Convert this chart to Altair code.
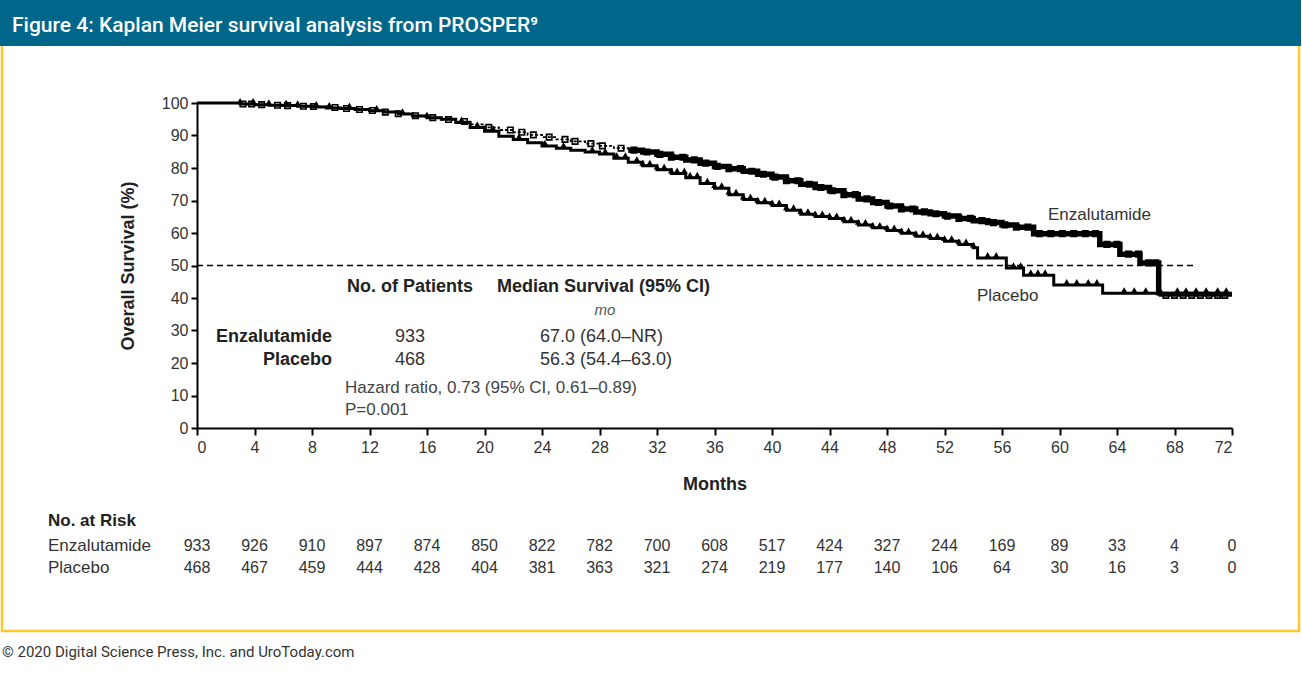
import altair as alt
import pandas as pd
import numpy as np

# ---------------- data ----------------
months_ticks = [0, 4, 8, 12, 16, 20, 24, 28, 32, 36, 40, 44, 48, 52, 56, 60, 64, 68, 72]
surv_ticks = [0, 10, 20, 30, 40, 50, 60, 70, 80, 90, 100]
risk_enz = [933, 926, 910, 897, 874, 850, 822, 782, 700, 608, 517, 424, 327, 244, 169, 89, 33, 4, 0]
risk_pla = [468, 467, 459, 444, 428, 404, 381, 363, 321, 274, 219, 177, 140, 106, 64, 30, 16, 3, 0]

enz_t = [0, 2, 3, 4, 5, 6, 7, 8, 9, 10, 11, 12, 13, 14, 15, 16, 17, 18, 19, 20, 21, 22, 23, 24,
         25, 26, 27, 28, 29, 30, 31, 32, 33, 34, 35, 36, 37, 38, 39, 40, 41, 42, 43, 44, 45, 46,
         47, 48, 49, 50, 51, 52, 53, 54, 55, 56, 57, 58.2, 62.8, 64.2, 65.6, 66.9, 72]
enz_s = [100, 100, 99.7, 99.5, 99.3, 99.2, 99.0, 98.9, 98.6, 98.3, 98.0, 97.7, 97.2, 96.7, 96.1,
         95.5, 94.9, 94.3, 93.4, 92.5, 91.7, 91.0, 90.2, 89.5, 88.8, 88.2, 87.5, 86.8, 86.1, 85.5,
         84.9, 84.2, 83.3, 82.5, 81.5, 80.5, 79.8, 79.0, 78.1, 77.2, 76.1, 75.0, 74.0, 73.0, 71.8,
         70.5, 69.4, 68.3, 67.4, 66.5, 65.9, 65.2, 64.5, 63.8, 63.2, 62.5, 61.8, 59.8, 56.5, 53.5,
         50.8, 40.8, 40.8]

pla_t = [0, 2, 3, 4, 5, 6, 7, 8, 9, 10, 11, 12, 13, 14, 15, 16, 17, 18, 19, 20, 21, 22, 23, 24,
         25, 26, 27, 28, 29, 30, 31, 32, 33, 34, 35, 36, 37, 38, 39, 40, 41, 42, 43, 44, 45, 46,
         47, 48, 49, 50, 51, 52, 53, 54, 54.3, 56.3, 57.5, 59.6, 63, 72]
pla_s = [100, 100, 99.7, 99.5, 99.3, 99.2, 99.0, 98.8, 98.5, 98.3, 98.0, 97.6, 97.2, 96.6, 96.0,
         95.5, 95.0, 94.0, 92.5, 91.3, 89.8, 88.8, 87.8, 86.8, 86.1, 85.5, 84.9, 84.3, 83.0, 81.8,
         80.7, 79.5, 78.3, 77.0, 75.2, 73.8, 71.8, 70.3, 69.3, 68.5, 67.0, 65.8, 65.1, 64.5, 63.5,
         62.5, 61.6, 60.8, 59.9, 59.0, 58.3, 57.5, 56.5, 55.5, 52.3, 49.2, 47.0, 44.0, 41.5, 41.5]

enz_cens = [3.2, 3.8, 4.5, 5.6, 6.3, 7.4, 8.1, 9.6, 10.4, 11.3, 12.2, 13.1, 14.0, 15.2, 16.4, 17.5,
            18.6, 20.3, 21.8, 22.6, 23.4, 24.5, 25.6, 26.3, 27.4, 28.2, 29.5, 30.4, 31.3, 32.2, 33.0,
            33.8, 34.6, 35.4, 36.2, 37.0, 37.8, 38.6, 39.4, 40.2, 41.0, 41.8, 42.6, 43.4, 44.2, 45.0,
            45.8, 46.6, 47.4, 48.2, 49.0, 49.8, 50.6, 51.4, 52.2, 53.0, 53.8, 54.6, 55.4, 56.2, 57.0,
            57.8, 58.6, 59.4, 60.2, 61.0, 61.8, 62.5, 63.3, 64.0, 64.8, 65.5, 66.2, 66.7,
            67.4, 68.0, 68.6, 69.2, 69.8, 70.4, 71.0, 71.5]
pla_cens = [3.0, 3.9, 5.0, 6.2, 7.0, 8.3, 9.2, 10.6, 12.5, 14.3, 16.0, 18.4, 19.5, 20.6, 22.4, 24.2,
            25.5, 27.5, 28.4, 29.2, 29.8, 30.6, 31.0, 31.5, 32.0, 32.5, 33.0, 33.4, 33.9, 34.3, 34.8,
            35.5, 36.0, 36.5, 37.0, 37.5, 38.0, 38.5, 39.0, 39.5, 40.0, 40.5, 41.0, 41.5, 42.0, 42.5,
            43.0, 43.5, 44.0, 44.5, 45.0, 45.5, 46.0, 46.5, 47.0, 47.5, 48.0, 48.5, 49.0, 49.5, 50.0,
            50.5, 51.0, 51.5, 52.0, 52.5, 53.0, 53.5, 54.0, 55.0, 55.6, 56.8, 57.3, 58.0, 58.5, 59.0,
            60.5, 61.2, 62.0, 62.6, 64.5, 65.2, 66.0, 67.0, 68.2, 68.8, 69.5, 70.2, 71.0, 71.6]

# ---------------- layout constants (pixels) ----------------
L, T = 197, 103          # plot origin in page
W, H = 1035, 325
FONT = "Liberation Sans, Arial, sans-serif"
HFONT = "Roboto, Open Sans, sans-serif"


def step_lookup(ts, ss, times):
    idx = np.searchsorted(np.array(ts), np.array(times), side="right") - 1
    return [ss[i] for i in idx]


enz_df = pd.DataFrame({"t": enz_t, "s": enz_s})
pla_df = pd.DataFrame({"t": pla_t, "s": pla_s})
enz_c = pd.DataFrame({"t": enz_cens, "s": step_lookup(enz_t, enz_s, enz_cens)})
pla_c = pd.DataFrame({"t": pla_cens, "s": step_lookup(pla_t, pla_s, pla_cens)})
risk_df = pd.DataFrame({"t": months_ticks, "enz": risk_enz, "pla": risk_pla})
one = pd.DataFrame({"a": [0]})

xs = alt.Scale(domain=[0, 72], nice=False)
ys = alt.Scale(domain=[0, 100], nice=False)

xaxis = alt.Axis(values=months_ticks, title="Months", grid=False, tickSize=7, tickWidth=2,
                 domainWidth=2, domainColor="black", tickColor="black", labelFontSize=16,
                 labelColor="#333", labelFont=FONT, labelPadding=4, labelOverlap=False,
                 titleFont=FONT, titleFontSize=18, titleFontWeight="bold", titleColor="#222",
                 titlePadding=20)
yaxis = alt.Axis(values=surv_ticks, title="Overall Survival (%)", grid=False,
                 tickSize=6, tickWidth=2, domainWidth=2, domainColor="black", tickColor="black",
                 labelFontSize=16, labelColor="#333", labelFont=FONT, labelPadding=3,
                 labelOverlap=False, labelFlush=False, labelBound=False,
                 titleFont=FONT, titleFontSize=18, titleFontWeight="bold", titleColor="#222",
                 titlePadding=24)

X = alt.X("t:Q", scale=xs, axis=xaxis)
Y = alt.Y("s:Q", scale=ys, axis=yaxis)

# background frame
border = alt.Chart(one).mark_rect(fillOpacity=0, stroke="#FFC72C", strokeWidth=2.5).encode(
    x=alt.value(2 - L), x2=alt.value(1299 - L), y=alt.value(44 - T), y2=alt.value(631 - T))
header = alt.Chart(one).mark_rect(color="#00668A").encode(
    x=alt.value(0 - L), x2=alt.value(1301 - L), y=alt.value(0 - T), y2=alt.value(46 - T))
header_txt = alt.Chart(one).mark_text(text="Figure 4: Kaplan Meier survival analysis from PROSPER⁹",
                                      align="left", baseline="alphabetic", color="white",
                                      font=HFONT, fontSize=21, fontWeight=500).encode(
    x=alt.value(12 - L), y=alt.value(32 - T))
footer = alt.Chart(one).mark_text(text="© 2020 Digital Science Press, Inc. and UroToday.com",
                                  align="left", baseline="alphabetic", color="#333",
                                  font=HFONT, fontSize=15).encode(
    x=alt.value(2 - L), y=alt.value(657 - T))

median_rule = alt.Chart(pd.DataFrame({"t": [0], "x1": [69.3], "s": [50]})).mark_rule(
    color="black", strokeWidth=1.5, strokeDash=[6, 4]).encode(x=X, x2="x1:Q", y=Y)

pla_line = alt.Chart(pla_df).mark_line(interpolate="step-after", color="black", strokeWidth=3).encode(
    x=X, y=Y)
enz_early = alt.Chart(enz_df[enz_df.t <= 30]).mark_line(
    interpolate="step-after", color="black", strokeWidth=1.8, strokeDash=[3, 2]).encode(x=X, y=Y)
enz_late = alt.Chart(enz_df[(enz_df.t >= 30) & (enz_df.t <= 66.9)]).mark_line(
    interpolate="step-after", color="black", strokeWidth=5.5).encode(x=X, y=Y)
enz_tail = alt.Chart(enz_df[enz_df.t >= 66.9]).mark_line(
    interpolate="step-after", color="black", strokeWidth=2.5).encode(x=X, y=Y)
# vertical dotted drop of enzalutamide
drop = alt.Chart(pd.DataFrame({"t": [66.9], "s": [50.8], "b": [40.8]})).mark_rule(
    color="black", strokeWidth=2, strokeDash=[2, 2]).encode(x=X, y=Y, y2="b:Q")

pla_marks = alt.Chart(pla_c).mark_point(shape="triangle-up", filled=True, color="black",
                                        size=45, yOffset=-3, opacity=1).encode(x=X, y=Y)
enz_marks = alt.Chart(enz_c).mark_point(shape="square", filled=False, color="black",
                                        strokeWidth=1.6, size=30, opacity=1).encode(x=X, y=Y)


def txt(text, x, y, align="left", weight="normal", size=18, color="#222", style="normal", font=FONT):
    return alt.Chart(one).mark_text(text=text, align=align, baseline="alphabetic",
                                    fontWeight=weight, fontSize=size, color=color,
                                    fontStyle=style, font=font).encode(
        x=alt.value(x - L), y=alt.value(y - T))


texts = [
    txt("No. of Patients", 347, 292, weight="bold"),
    txt("Median Survival (95% CI)", 497, 292, weight="bold"),
    txt("mo", 605, 315, align="center", size=15, color="#555", style="italic"),
    txt("Enzalutamide", 332, 342, align="right", weight="bold"),
    txt("933", 410, 342, align="center", color="#333"),
    txt("67.0 (64.0–NR)", 540, 342, color="#333"),
    txt("Placebo", 332, 365, align="right", weight="bold"),
    txt("468", 410, 365, align="center", color="#333"),
    txt("56.3 (54.4–63.0)", 540, 365, color="#333"),
    txt("Hazard ratio, 0.73 (95% CI, 0.61–0.89)", 345, 393, size=17, color="#444"),
    txt("P=0.001", 345, 415, size=17, color="#444"),
    txt("Enzalutamide", 1048, 220, size=17, color="#333"),
    txt("Placebo", 977, 301, size=17, color="#333"),
    txt("No. at Risk", 48, 526, weight="bold", size=17),
    txt("Enzalutamide", 48, 551, size=17, color="#333"),
    txt("Placebo", 48, 573, size=17, color="#333"),
]

risk_e = alt.Chart(risk_df).mark_text(align="center", baseline="alphabetic", fontSize=16,
                                      color="#333", font=FONT).encode(
    x=X, y=alt.value(551 - T), text="enz:Q")
risk_p = alt.Chart(risk_df).mark_text(align="center", baseline="alphabetic", fontSize=16,
                                      color="#333", font=FONT).encode(
    x=X, y=alt.value(573 - T), text="pla:Q")

chart = alt.layer(
    border, header, header_txt, footer, median_rule,
    pla_line, enz_early, enz_late, enz_tail, drop, pla_marks, enz_marks,
    *texts, risk_e, risk_p
).properties(
    width=W, height=H,
    padding={"left": L, "top": T, "right": 1302 - L - W, "bottom": 695 - T - H},
    autosize=alt.AutoSizeParams(type="none"),
    background="white",
).configure_view(stroke=None)

chart.save("out.html", embed_options={"renderer": "svg", "actions": False})
